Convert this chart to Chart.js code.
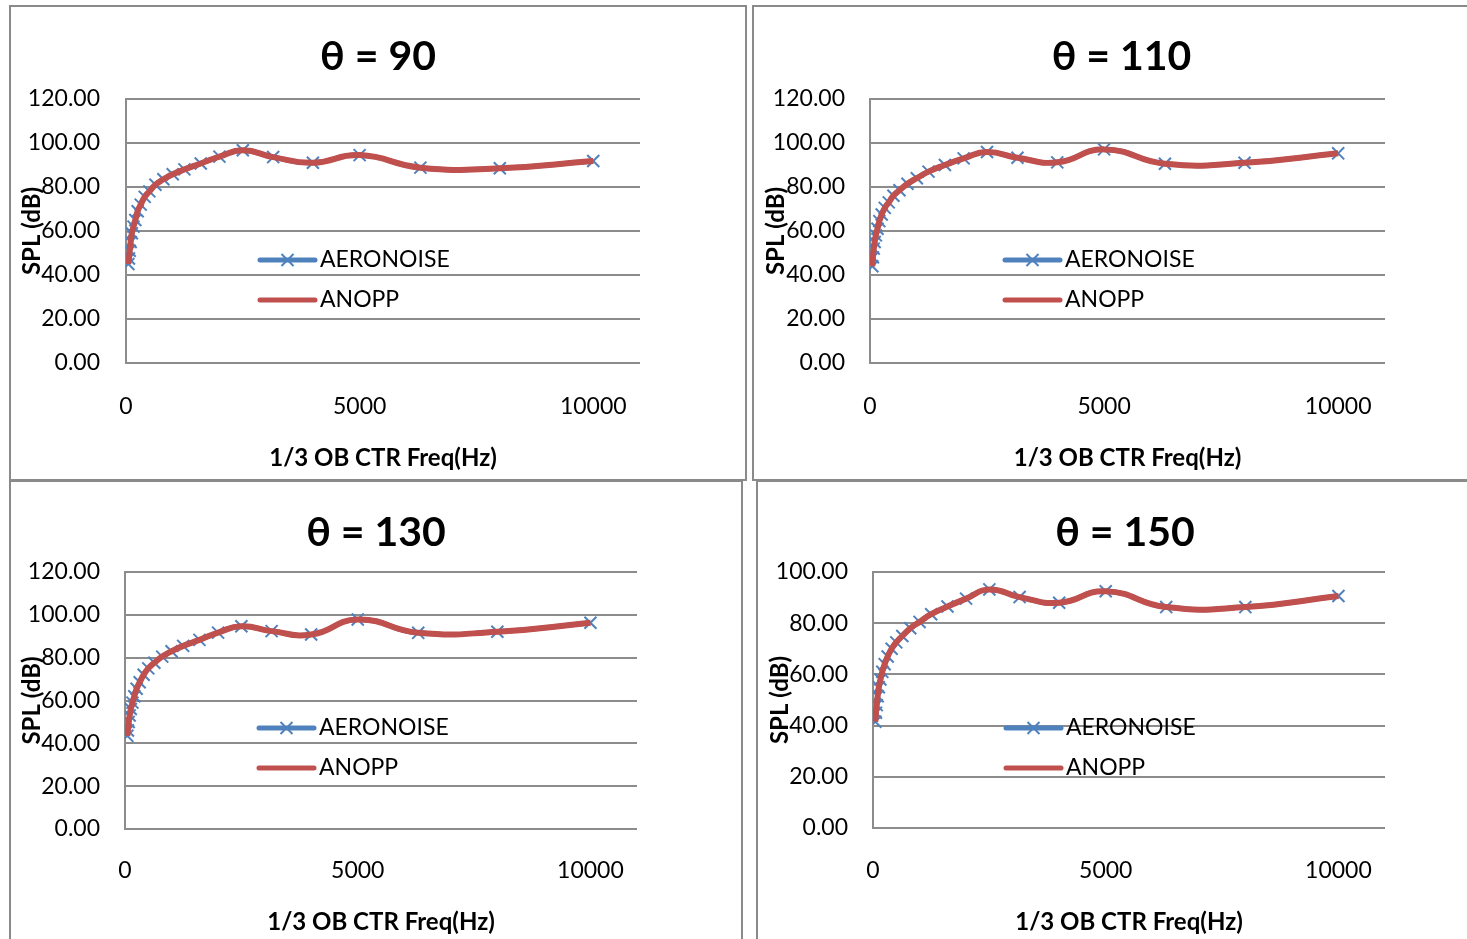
<!DOCTYPE html>
<html>
<head>
<meta charset="utf-8">
<title>SPL vs 1/3 octave band centre frequency</title>
<script src="https://cdn.jsdelivr.net/npm/chart.js@4.4.1/dist/chart.umd.min.js"></script>
<style>
  html, body { margin: 0; padding: 0; background: #fff; width: 1467px; height: 939px; overflow: hidden; }
  .panel { position: absolute; box-sizing: border-box; border: 2px solid #8a8a8a; background: #fff; overflow: hidden; }
  .panel canvas { display: block; }
</style>
</head>
<body>
<div class="panel" style="left:9px;top:5px;width:738px;height:476px"><canvas id="c90" width="734" height="472"></canvas></div>
<div class="panel" style="left:752px;top:5px;width:739px;height:476px"><canvas id="c110" width="735" height="472"></canvas></div>
<div class="panel" style="left:9px;top:480px;width:734px;height:478px"><canvas id="c130" width="730" height="474"></canvas></div>
<div class="panel" style="left:756px;top:480px;width:738px;height:478px"><canvas id="c150" width="734" height="474"></canvas></div>

<script>
// 1/3 octave band centre frequencies (Hz)
const freqHz = [50, 63, 80, 100, 125, 160, 200, 250, 315, 400, 500, 630, 800,
                1000, 1250, 1600, 2000, 2500, 3150, 4000, 5000, 6300, 8000, 10000];

// SPL (dB) per band, theta = 90
const aeronoise90 = [45, 47.5, 51, 55, 59, 62, 65, 69, 72, 75.5, 78, 81, 83.5,
                     85.8, 88, 90.7, 93.8, 96.7, 93.6, 91, 94.5, 88.8, 88.5, 91.8];
const anopp90     = [45, 47.5, 51, 55, 59, 62, 65, 69, 72, 75.5, 78, 81, 83.5,
                     85.8, 88, 90.7, 93.8, 96.7, 93.6, 91, 94.5, 88.8, 88.5, 91.8];

// theta = 110
const aeronoise110 = [44, 48, 52, 55, 58, 61, 64.5, 67.5, 70.5, 73, 76, 78.5, 81.5,
                      84, 87, 90, 93, 95.9, 93.3, 91.2, 97.1, 90.6, 91, 95.3];
const anopp110     = [44, 48, 52, 55, 58, 61, 64.5, 67.5, 70.5, 73, 76, 78.5, 81.5,
                      84, 87, 90, 93, 95.9, 93.3, 91.2, 97.1, 90.6, 91, 95.3];

// theta = 130
const aeronoise130 = [43.5, 46, 50, 53, 56, 59, 62, 65.5, 68.5, 72, 75, 77.6, 80.5,
                      83, 85.5, 88.3, 91.7, 94.7, 92.4, 90.8, 97.8, 91.6, 92.1, 96.3];
const anopp130     = [43.5, 46, 50, 53, 56, 59, 62, 65.5, 68.5, 72, 75, 77.6, 80.5,
                      83, 85.5, 88.3, 91.7, 94.7, 92.4, 90.8, 97.8, 91.6, 92.1, 96.3];

// theta = 150
const aeronoise150 = [41.5, 45, 48, 51.5, 55, 58, 61, 64, 67, 70, 72.5, 75, 78,
                      80.5, 83.5, 86.5, 89.6, 93.2, 90.2, 88, 92.5, 86.3, 86.3, 90.6];
const anopp150     = [41.5, 45, 48, 51.5, 55, 58, 61, 64, 67, 70, 72.5, 75, 78,
                      80.5, 83.5, 86.5, 89.6, 93.2, 90.2, 88, 92.5, 86.3, 86.3, 90.6];

// Axis ticks
const xTickValues = [0, 5000, 10000];
const seriesNames = ['AERONOISE', 'ANOPP'];
const titles = ['θ = 90', 'θ = 110', 'θ = 130', 'θ = 150'];
const xAxisTitle = '1/3 OB CTR Freq(Hz)';
const yAxisTitle = 'SPL (dB)';

const FONT = 'Lato, "Open Sans", "Liberation Sans", sans-serif';
const BLUE = '#4F81BD';
const RED = '#C0504D';
const GRID = '#8c8c8c';

Chart.defaults.color = '#000';
Chart.defaults.font.family = FONT;

// Legend drawn inside the plot area, Excel style
const insideLegend = {
  id: 'insideLegend',
  afterDatasetsDraw(chart, args, opts) {
    const { ctx, chartArea } = chart;
    ctx.save();
    chart.data.datasets.forEach((ds, i) => {
      const x0 = chartArea.left + opts.x;
      const y = chartArea.top + opts.y + i * opts.gap;
      ctx.lineCap = 'round';
      ctx.strokeStyle = ds.borderColor;
      ctx.lineWidth = opts.lineWidth;
      ctx.beginPath();
      ctx.moveTo(x0, y);
      ctx.lineTo(x0 + opts.length, y);
      ctx.stroke();
      if (ds.pointStyle === 'crossRot' && ds.pointRadius > 0) {
        const cx = x0 + opts.length / 2;
        const r = ds.pointRadius * Math.SQRT1_2;
        ctx.lineCap = 'butt';
        ctx.lineWidth = ds.pointBorderWidth;
        ctx.strokeStyle = ds.pointBorderColor;
        ctx.beginPath();
        ctx.moveTo(cx - r, y - r); ctx.lineTo(cx + r, y + r);
        ctx.moveTo(cx - r, y + r); ctx.lineTo(cx + r, y - r);
        ctx.stroke();
      }
      ctx.fillStyle = '#000';
      ctx.font = opts.font;
      ctx.textAlign = 'left';
      ctx.textBaseline = 'middle';
      ctx.fillText(ds.label, x0 + opts.length + opts.textGap, y);
    });
    ctx.restore();
  }
};

function toPoints(values) {
  return freqHz.map((f, i) => ({ x: f, y: values[i] }));
}

function makeChart(id, title, aero, anopp, L) {
  return new Chart(document.getElementById(id), {
    type: 'line',
    data: {
      datasets: [
        {
          label: seriesNames[0],
          data: toPoints(aero),
          borderColor: BLUE,
          borderWidth: 5,
          tension: 0.5,
          pointStyle: 'crossRot',
          pointRadius: 8.5,
          pointBorderWidth: 2,
          pointBorderColor: BLUE,
          pointBackgroundColor: BLUE,
          order: 1
        },
        {
          label: seriesNames[1],
          data: toPoints(anopp),
          borderColor: RED,
          borderWidth: 6,
          tension: 0.5,
          pointRadius: 0,
          order: 0
        }
      ]
    },
    options: {
      responsive: false,
      animation: false,
      events: [],
      layout: { padding: 0 },
      plugins: {
        legend: { display: false },
        tooltip: { enabled: false },
        title: {
          display: true,
          text: title,
          color: '#000',
          font: { family: FONT, size: 41, weight: 'bold' },
          padding: { top: L.titleTop, bottom: L.titleBottom }
        },
        insideLegend: {
          x: L.legX, y: L.legY, gap: 40, length: 55, lineWidth: 5, textGap: 5,
          font: '23px ' + FONT
        }
      },
      scales: {
        x: {
          type: 'linear',
          min: 0,
          max: 11000,
          afterBuildTicks: (scale) => { scale.ticks = xTickValues.map(v => ({ value: v })); },
          afterFit: (scale) => { scale.height = L.xHeight; },
          grid: { display: false, drawTicks: false },
          border: { display: false },
          ticks: {
            padding: L.xTickPad,
            maxRotation: 0,
            font: { family: FONT, size: 23 },
            color: '#000',
            callback: (v) => String(v)
          },
          title: {
            display: true,
            text: xAxisTitle,
            color: '#000',
            font: { family: FONT, size: 24, weight: 'bold' },
            padding: { top: 0, bottom: L.xTitleBottom }
          }
        },
        y: {
          min: 0,
          max: L.yMax,
          afterFit: (scale) => { scale.width = L.yWidth; },
          grid: { color: GRID, lineWidth: 2, drawTicks: false },
          border: { display: true, color: GRID, width: 2 },
          ticks: {
            stepSize: 20,
            padding: L.yTickPad,
            font: { family: FONT, size: 23 },
            color: '#000',
            callback: (v) => Number(v).toFixed(2)
          },
          title: {
            display: true,
            text: yAxisTitle,
            color: '#000',
            font: { family: FONT, size: 24, weight: 'bold' },
            padding: { top: L.yTitleTop, bottom: 0 }
          }
        },
        // empty margin on the right of the plot area (keeps the chart title centred on the panel)
        margin: {
          type: 'linear',
          position: 'right',
          display: true,
          afterFit: (scale) => { scale.width = L.rightPad; },
          grid: { display: false, drawTicks: false },
          border: { display: false },
          ticks: { display: false }
        }
      }
    },
    plugins: [insideLegend]
  });
}

makeChart('c90', titles[0], aeronoise90, anopp90, {
  rightPad: 105, titleTop: 25.4, titleBottom: 17.4, yWidth: 115, yTickPad: 26, yTitleTop: 7,
  xHeight: 116, xTickPad: 30.2, xTitleBottom: 6.6, yMax: 120, legX: 134, legY: 161
});
makeChart('c110', titles[1], aeronoise110, anopp110, {
  rightPad: 104, titleTop: 25.4, titleBottom: 17.4, yWidth: 116, yTickPad: 25, yTitleTop: 8,
  xHeight: 116, xTickPad: 30.2, xTitleBottom: 6.6, yMax: 120, legX: 135, legY: 161
});
makeChart('c130', titles[2], aeronoise130, anopp130, {
  rightPad: 104, titleTop: 26.4, titleBottom: 14.4, yWidth: 114, yTickPad: 25, yTitleTop: 7,
  xHeight: 127, xTickPad: 28.2, xTitleBottom: 19.6, yMax: 120, legX: 134, legY: 156
});
makeChart('c150', titles[3], aeronoise150, anopp150, {
  rightPad: 107, titleTop: 26.4, titleBottom: 14.4, yWidth: 115, yTickPad: 25, yTitleTop: 8,
  xHeight: 128, xTickPad: 29.2, xTitleBottom: 19.6, yMax: 100, legX: 133, legY: 156
});
</script>
</body>
</html>
